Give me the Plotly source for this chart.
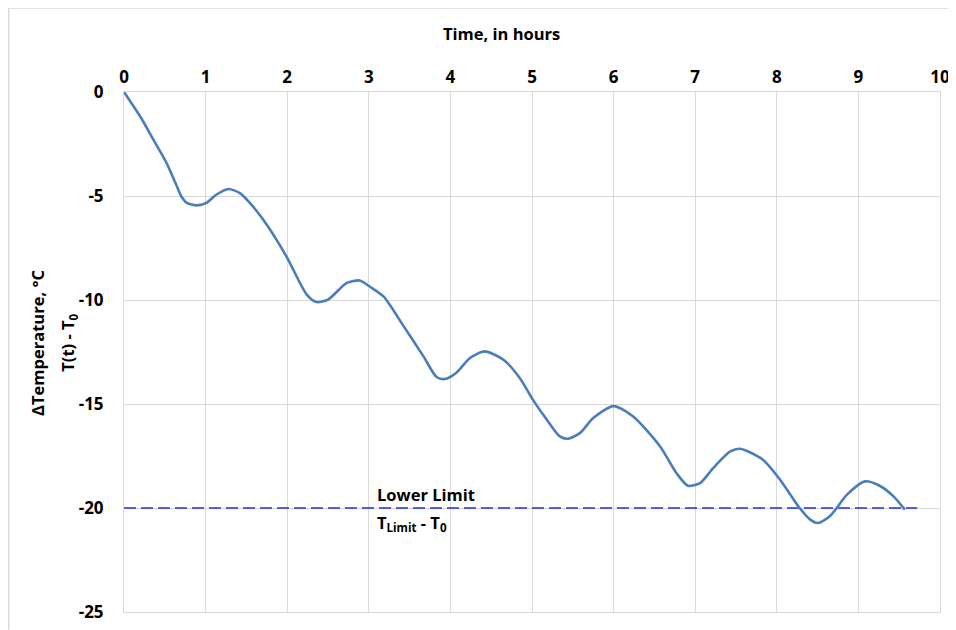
import plotly.graph_objects as go

# Time (hours) and temperature difference readings
time_h = [0, 0.09, 0.21, 0.36, 0.52, 0.64, 0.70, 0.77, 0.89, 1.01, 1.13, 1.28, 1.42, 1.58, 1.75, 1.99,
          2.24, 2.36, 2.50, 2.73, 2.89, 3.01, 3.18, 3.42, 3.67, 3.83, 3.93, 4.07, 4.24, 4.42,
          4.65, 4.85, 5.01, 5.18, 5.34, 5.44, 5.59, 5.75, 6.00, 6.24, 6.57, 6.77, 6.91, 7.06,
          7.22, 7.43, 7.55, 7.83, 8.04, 8.28, 8.41, 8.50, 8.65, 8.86, 9.08, 9.26, 9.43, 9.57]
delta_t = [0, -0.53, -1.25, -2.29, -3.4, -4.46, -5.0, -5.33, -5.45, -5.33, -4.94, -4.66, -4.86, -5.5, -6.38, -7.9,
           -9.74, -10.1, -9.98, -9.18, -9.06, -9.35, -9.83, -11.22, -12.71, -13.70, -13.80, -13.51, -12.79, -12.47,
           -12.87, -13.75, -14.79, -15.75, -16.56, -16.67, -16.39, -15.67, -15.10, -15.6, -17.04, -18.32, -18.93, -18.8,
           -18.08, -17.28, -17.15, -17.68, -18.64, -20.0, -20.56, -20.72, -20.40, -19.36, -18.72, -18.93, -19.44, -20.08]

limit_x = [0, 9.72]
limit_y = [-20, -20]

x_ticks = list(range(0, 11))
x_labels = [str(v) for v in x_ticks]
y_ticks = [0, -5, -10, -15, -20, -25]
y_labels = ["0", "-5", "-10", "-15", "-20", "-25"]

FONT = "Open Sans"

fig = go.Figure()
fig.add_trace(go.Scatter(x=limit_x, y=limit_y, mode="lines",
                         line=dict(color="#1F2BF0", width=1.6, dash="12px,5px"),
                         hoverinfo="skip", showlegend=False))
fig.add_trace(go.Scatter(x=time_h, y=delta_t, mode="lines",
                         line=dict(color="#4A7EBB", width=2.6, shape="spline", smoothing=0.7),
                         showlegend=False))

fig.update_layout(
    width=948, height=622,
    margin=dict(l=116.3, r=16, t=84.3, b=17.7),
    paper_bgcolor="white", plot_bgcolor="white",
    font=dict(family=FONT, size=17, color="black"),
    xaxis=dict(side="top", range=[0, 10], tickvals=x_ticks, ticktext=x_labels, showgrid=True,
               gridcolor="#D9D9D9", gridwidth=1, zeroline=False, automargin=False,
               showline=True, mirror=True, linecolor="#D9D9D9", linewidth=1,
               ticks="", ticklabelstandoff=1,
               tickfont=dict(family=FONT, size=17, color="black", weight="bold")),
    yaxis=dict(range=[-25, 0], tickvals=y_ticks, ticktext=y_labels, showgrid=True,
               gridcolor="#D9D9D9", gridwidth=1, zeroline=False, automargin=False,
               showline=True, mirror=True, linecolor="#D9D9D9", linewidth=1,
               ticks="", ticklabelstandoff=16,
               tickfont=dict(family=FONT, size=17, color="black", weight="bold")),
    shapes=[
        dict(type="line", xref="paper", yref="paper", x0=-0.1413, x1=-0.1413, y0=-0.034, y1=1.1615,
             line=dict(color="#D9D9D9", width=1.5), layer="below"),
        dict(type="line", xref="paper", yref="paper", x0=-0.1413, x1=1.019, y0=1.1615, y1=1.1615,
             line=dict(color="#D9D9D9", width=1.5), layer="below"),
    ],
    annotations=[
        dict(text="<b>Time, in hours</b>", xref="paper", yref="paper", x=0.463, y=1.112,
             xanchor="center", yanchor="middle", showarrow=False,
             font=dict(family=FONT, size=16.5, color="black")),
        dict(text="<b>∆Temperature, °C</b>", xref="paper", yref="paper",
             x=-0.1064, y=0.518, xanchor="center", yanchor="middle", textangle=-90,
             showarrow=False, font=dict(family=FONT, size=16.5, color="black")),
        dict(text="<b>T(t) - T<sub>0</sub></b>", xref="paper", yref="paper",
             x=-0.0685, y=0.518, xanchor="center", yanchor="middle", textangle=-90,
             showarrow=False, font=dict(family=FONT, size=16.5, color="black")),
        dict(text="<b>Lower Limit</b>", x=3.07, y=-19.35, xanchor="left", yanchor="middle",
             showarrow=False, font=dict(family=FONT, size=16.5, color="black")),
        dict(text="<b>T<sub>Limit</sub> - T<sub>0</sub></b>", x=3.07, y=-20.7, xanchor="left",
             yanchor="middle", showarrow=False, font=dict(family=FONT, size=16.5, color="black")),
    ],
)

fig.write_html("out.html")
